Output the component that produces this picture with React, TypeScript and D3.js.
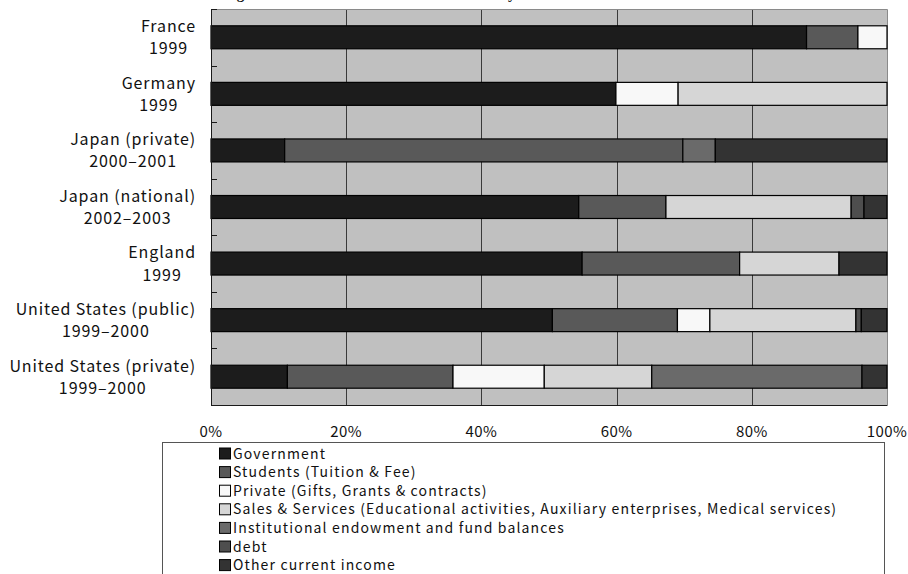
import React, { useEffect, useRef } from 'react';
import * as d3 from 'd3';

const W = 908;
const H = 574;

// Institution / period labels (two lines each)
const categoryNames = [
  'France',
  'Germany',
  'Japan (private)',
  'Japan (national)',
  'England',
  'United States (public)',
  'United States (private)',
];
const categoryYears = ['1999', '1999', '2000–2001', '2002–2003', '1999', '1999–2000', '1999–2000'];

// Share of income by source (%), one value per category above
const government = [88.1, 59.9, 10.9, 54.4, 54.9, 50.5, 11.3];
const students = [7.6, 0, 58.9, 12.9, 23.3, 18.5, 24.5];
const privateGifts = [4.3, 9.2, 0, 0, 0, 4.8, 13.5];
const salesServices = [0, 30.9, 0, 27.4, 14.7, 21.6, 15.9];
const endowment = [0, 0, 4.8, 0, 0, 0, 31.1];
const debt = [0, 0, 0, 1.9, 0, 0.8, 0];
const otherIncome = [0, 0, 25.4, 3.4, 7.1, 3.8, 3.7];

const seriesNames = [
  'Government',
  'Students (Tuition & Fee)',
  'Private (Gifts, Grants & contracts)',
  'Sales & Services (Educational activities, Auxiliary enterprises, Medical services)',
  'Institutional endowment and fund balances',
  'debt',
  'Other current income',
];
const seriesValues = [government, students, privateGifts, salesServices, endowment, debt, otherIncome];
const seriesColors = ['#1c1c1c', '#595959', '#f8f8f8', '#d6d6d6', '#6a6a6a', '#4e4e4e', '#333333'];

const xTicks = [0, 20, 40, 60, 80, 100];

const FONT = '"Noto Sans CJK JP", "Noto Sans", sans-serif';

export default function App() {
  const ref = useRef<SVGSVGElement | null>(null);

  useEffect(() => {
    const svg = d3.select(ref.current);
    svg.selectAll('*').remove();

    const plot = { left: 211, right: 887, top: 9, bottom: 405 };

    const x = d3.scaleLinear().domain([0, 100]).range([plot.left, plot.right]);
    const idx = categoryNames.map((_, i) => i);
    const y = d3
      .scaleBand<number>()
      .domain(idx)
      .range([plot.top, plot.bottom])
      .paddingInner(0.594)
      .paddingOuter(0.297);
    const step = y.step();

    const rows = idx.map((i) => {
      const r: Record<string, number> = { i };
      seriesNames.forEach((k, s) => (r[k] = seriesValues[s][i]));
      return r;
    });
    const stacked = d3.stack<Record<string, number>>().keys(seriesNames)(rows);

    // title (sits above the visible area)
    svg
      .append('text')
      .attr('x', 190)
      .attr('y', -1)
      .attr('font-family', '"Liberation Serif", "DejaVu Serif", serif')
      .attr('font-weight', 'bold')
      .attr('font-size', 15)
      .attr('fill', '#111')
      .text('Funding Structure of Universities in Each Country');

    // plot background
    svg
      .append('rect')
      .attr('x', plot.left)
      .attr('y', plot.top)
      .attr('width', plot.right - plot.left)
      .attr('height', plot.bottom - plot.top)
      .attr('fill', '#c0c0c0');

    // gridlines
    svg
      .append('g')
      .selectAll('line')
      .data(xTicks.filter((t) => t > 0 && t < 100))
      .join('line')
      .attr('x1', (d) => Math.round(x(d)) + 0.5)
      .attr('x2', (d) => Math.round(x(d)) + 0.5)
      .attr('y1', plot.top)
      .attr('y2', plot.bottom)
      .attr('stroke', '#3a3a3a')
      .attr('stroke-width', 1);

    // plot border (top/right)
    svg
      .append('path')
      .attr('d', `M${plot.left},${plot.top + 0.5}H${plot.right + 0.5}V${plot.bottom}`)
      .attr('fill', 'none')
      .attr('stroke', '#8a8a8a')
      .attr('stroke-width', 1);

    // stacked bars
    const barG = svg.append('g');
    stacked.forEach((layer, s) => {
      barG
        .append('g')
        .selectAll('rect')
        .data(layer.filter((d) => d[1] - d[0] > 0))
        .join('rect')
        .attr('x', (d) => x(d[0]))
        .attr('y', (d) => y(d.data.i as number) as number)
        .attr('width', (d) => x(d[1]) - x(d[0]))
        .attr('height', y.bandwidth())
        .attr('fill', seriesColors[s])
        .attr('stroke', '#000')
        .attr('stroke-width', 1.2);
    });

    // axes
    svg
      .append('line')
      .attr('x1', plot.left + 0.5)
      .attr('x2', plot.left + 0.5)
      .attr('y1', plot.top)
      .attr('y2', plot.bottom + 0.5)
      .attr('stroke', '#1a1a1a');
    svg
      .append('line')
      .attr('x1', plot.left)
      .attr('x2', plot.right + 0.5)
      .attr('y1', plot.bottom + 0.5)
      .attr('y2', plot.bottom + 0.5)
      .attr('stroke', '#1a1a1a');

    // category ticks (pointing into the plot)
    svg
      .append('g')
      .selectAll('line')
      .data(d3.range(categoryNames.length + 1))
      .join('line')
      .attr('x1', plot.left)
      .attr('x2', plot.left + 6)
      .attr('y1', (d) => Math.round(plot.top + d * step) + 0.5)
      .attr('y2', (d) => Math.round(plot.top + d * step) + 0.5)
      .attr('stroke', '#1a1a1a');

    // category labels: block right-aligned, lines centred within the block
    const labelG = svg
      .append('g')
      .attr('font-family', FONT)
      .attr('font-size', 16)
      .attr('letter-spacing', 0.9)
      .attr('fill', '#111');
    idx.forEach((i) => {
      const cy = (y(i) as number) + y.bandwidth() / 2;
      const t1 = labelG.append('text').attr('y', cy - 5.2).attr('text-anchor', 'middle').text(categoryNames[i]);
      const t2 = labelG.append('text').attr('y', cy + 17).attr('text-anchor', 'middle').text(categoryYears[i]);
      const w1 = (t1.node() as SVGTextElement).getComputedTextLength();
      const w2 = (t2.node() as SVGTextElement).getComputedTextLength();
      const cx = 196 - Math.max(w1, w2) / 2;
      t1.attr('x', cx);
      t2.attr('x', cx);
    });

    // x tick labels
    svg
      .append('g')
      .selectAll('text')
      .data(xTicks)
      .join('text')
      .attr('x', (d) => x(d))
      .attr('y', 437)
      .attr('text-anchor', 'middle')
      .attr('font-family', FONT)
      .attr('font-size', 15)
      .attr('letter-spacing', 0.4)
      .attr('fill', '#111')
      .text((d) => `${d}%`);

    // legend
    const lg = svg.append('g');
    lg.append('rect')
      .attr('x', 162.5)
      .attr('y', 442.5)
      .attr('width', 722)
      .attr('height', 150)
      .attr('fill', '#fff')
      .attr('stroke', '#555')
      .attr('stroke-width', 1);
    seriesNames.forEach((name, s) => {
      const cy = 453.5 + s * 18.6;
      lg.append('rect')
        .attr('x', 219.5)
        .attr('y', cy - 5.5)
        .attr('width', 11)
        .attr('height', 11)
        .attr('fill', seriesColors[s])
        .attr('stroke', '#000');
      lg.append('text')
        .attr('x', 233)
        .attr('y', cy + 5)
        .attr('font-family', FONT)
        .attr('font-size', 14)
        .attr('letter-spacing', 1.15)
        .attr('fill', '#111')
        .text(name);
    });
  }, []);

  return (
    <svg
      ref={ref}
      width={W}
      height={H}
      viewBox={`0 0 ${W} ${H}`}
      style={{ position: 'absolute', left: 0, top: 0, background: '#fff', overflow: 'hidden' }}
    />
  );
}
